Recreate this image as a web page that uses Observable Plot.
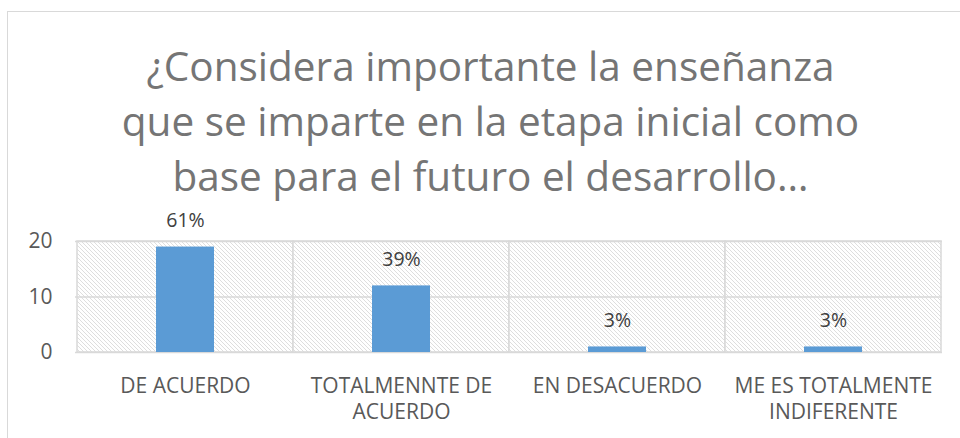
<!DOCTYPE html>
<html>
<head>
<meta charset="utf-8">
<script src="https://cdn.jsdelivr.net/npm/d3@7"></script>
<script src="https://cdn.jsdelivr.net/npm/@observablehq/plot@0.6"></script>
<style>
  html, body { margin: 0; padding: 0; background: #fff; }
  #wrap { position: relative; width: 960px; height: 438px; overflow: hidden; font-family: "Open Sans", sans-serif; }
  #frame { position: absolute; left: 7px; top: 11px; width: 1000px; height: 500px; border: 1px solid #d9d9d9; box-sizing: border-box; }
  #title { position: absolute; left: 0; top: 38px; width: 981px; text-align: center; font-size: 40.5px; line-height: 55px; color: #757575; }
  #chart { position: absolute; left: 0; top: 200px; }
</style>
</head>
<body>
<div id="wrap">
  <div id="frame"></div>
  <div id="title">¿Considera importante la enseñanza<br>que se imparte en la etapa inicial como<br>base para el futuro el desarrollo…</div>
  <div id="chart"></div>
</div>
<script>
const categories = ["DE ACUERDO", "TOTALMENNTE DE ACUERDO", "EN DESACUERDO", "ME ES TOTALMENTE INDIFERENTE"];
const tickLabels = ["DE ACUERDO", "TOTALMENNTE DE\nACUERDO", "EN DESACUERDO", "ME ES TOTALMENTE\nINDIFERENTE"];
const values = [19, 12, 1, 1];
const pctLabels = ["61%", "39%", "3%", "3%"];
const yTicks = [0, 10, 20];

const data = categories.map((c, i) => ({cat: c, value: values[i], label: pctLabels[i]}));
const labelOf = new Map(categories.map((c, i) => [c, tickLabels[i]]));

const plot = Plot.plot({
  width: 960,
  height: 238,
  marginLeft: 75,
  marginRight: 18,
  marginTop: 41,
  marginBottom: 86,
  style: {fontFamily: "Open Sans, sans-serif", background: "transparent", overflow: "visible"},
  x: {type: "band", domain: categories, padding: 0},
  y: {domain: [0, 20]},
  marks: [
    Plot.barY(categories, {x: d => d, y: () => yTicks[yTicks.length - 1], fill: "url(#hatch)", stroke: "#d9d9d9", strokeWidth: 1.5}),
    Plot.ruleY(yTicks, {stroke: "#d9d9d9", strokeWidth: 1.5}),
    Plot.barY(data, {x: "cat", y: "value", fill: "#5b9bd5", insetLeft: 79, insetRight: 79}),
    Plot.text(data, {x: "cat", y: "value", text: "label", dy: -26, fontSize: 19.5, fill: "#404040", lineAnchor: "middle"}),
    Plot.axisY({ticks: yTicks, tickSize: 0, tickPadding: 23, fontSize: 21, color: "#595959", label: null}),
    Plot.axisX({tickSize: 0, tickPadding: 22, fontSize: 21, lineHeight: 1.24, color: "#595959", label: null, tickFormat: d => labelOf.get(d)})
  ]
});
plot.insertAdjacentHTML("afterbegin",
  '<defs><pattern id="hatch" patternUnits="userSpaceOnUse" width="4" height="4">' +
  '<rect width="4" height="4" fill="#ffffff"/>' +
  '<path d="M-1,-1 L5,5 M-1,3 L1,5 M3,-1 L5,1" stroke="#dedede" stroke-width="1"/>' +
  '</pattern></defs>');
document.getElementById("chart").appendChild(plot);
</script>
</body>
</html>
